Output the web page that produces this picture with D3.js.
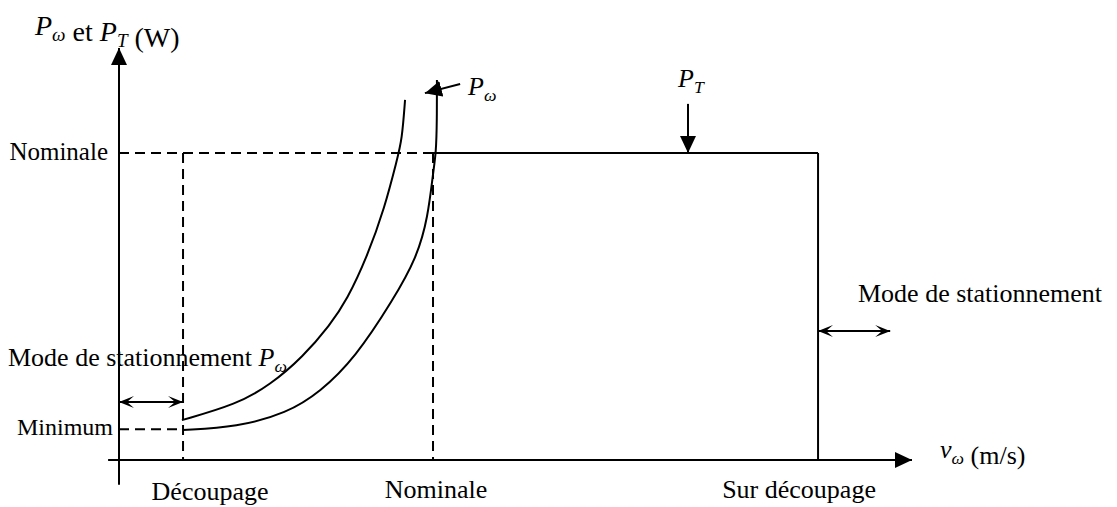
<!DOCTYPE html>
<html>
<head>
<meta charset="utf-8">
<script src="https://cdn.jsdelivr.net/npm/d3@7"></script>
<style>
body { margin: 0; background: #fff; }
text { font-family: "Liberation Serif", "Times New Roman", serif; fill: #000; }
</style>
</head>
<body>
<div class="chart"></div>
<script>
// wind speed (m/s) marks on the x axis
const speedLabels = ["Découpage", "Nominale", "Sur découpage"];
const speedValues = [2.29, 11.23, 25];
// power levels (per unit of nominal) on the y axis
const powerLabels = ["Minimum", "Nominale"];
const powerValues = [0.10, 1.0];

// wind power curve P_omega (outer curve)
const windV = [2.29, 4.22, 6.01, 7.19, 8.44, 9.80, 10.66, 11.05, 11.23, 11.34, 11.37, 11.37];
const windP = [0.098, 0.107, 0.153, 0.221, 0.332, 0.521, 0.661, 0.792, 0.935, 1.0, 1.107, 1.238];
// second curve (inner curve)
const innerV = [2.25, 4.22, 5.40, 6.58, 7.55, 8.15, 8.87, 9.51, 9.94, 10.12, 10.23];
const innerP = [0.130, 0.182, 0.244, 0.336, 0.440, 0.521, 0.661, 0.824, 0.977, 1.042, 1.173];

const width = 1117, height = 507;

const xScale = d3.scaleLinear().domain([0, 28.36]).range([119, 912]);
const yScale = d3.scaleLinear().domain([0, 1.342]).range([460, 48]);

const svg = d3.select(".chart")
    .append("svg")
    .attr("width", width)
    .attr("height", height);

const defs = svg.append("defs");
defs.append("marker")
    .attr("id", "tri")
    .attr("viewBox", "-17 -8 17 16")
    .attr("refX", 0).attr("refY", 0)
    .attr("markerWidth", 17).attr("markerHeight", 16)
    .attr("markerUnits", "userSpaceOnUse")
    .attr("orient", "auto")
    .append("path")
    .attr("d", "M0,0 L-17,-8 L-17,8 Z")
    .attr("fill", "#000");
defs.append("marker")
    .attr("id", "chev")
    .attr("viewBox", "-15 -7 15 14")
    .attr("refX", 0).attr("refY", 0)
    .attr("markerWidth", 15).attr("markerHeight", 14)
    .attr("markerUnits", "userSpaceOnUse")
    .attr("orient", "auto-start-reverse")
    .append("path")
    .attr("d", "M0,0 L-15,-6 L-8,0 L-15,6 Z")
    .attr("fill", "#000");

function line(x1, y1, x2, y2, opts = {}) {
    const l = svg.append("line")
        .attr("x1", x1).attr("y1", y1)
        .attr("x2", x2).attr("y2", y2)
        .attr("stroke", "#000")
        .attr("stroke-width", opts.w || 2);
    if (opts.dash) l.attr("stroke-dasharray", "10,6");
    if (opts.end) l.attr("marker-end", `url(#${opts.end})`);
    if (opts.start) l.attr("marker-start", `url(#${opts.start})`);
    return l;
}

// axes
line(xScale(-0.39), yScale(0), xScale(28.36), yScale(0), { end: "tri" });
line(xScale(0), yScale(-0.081), xScale(0), yScale(1.342), { end: "tri" });

const vCut = speedValues[0], vNom = speedValues[1], vOut = speedValues[2];
const pMin = powerValues[0], pNom = powerValues[1];

// dashed guides
line(xScale(0), yScale(pNom), xScale(vNom), yScale(pNom), { dash: true });
line(xScale(vCut), yScale(pNom), xScale(vCut), yScale(0), { dash: true });
line(xScale(vNom), yScale(pNom), xScale(vNom), yScale(0), { dash: true });
line(xScale(0), yScale(pMin), xScale(vCut), yScale(pMin), { dash: true });

// turbine power P_T
line(xScale(vNom), yScale(pNom), xScale(vOut), yScale(pNom));
line(xScale(vOut), yScale(pNom), xScale(vOut), yScale(0));

// curves
const curveGen = d3.line()
    .x(d => xScale(d[0]))
    .y(d => yScale(d[1]))
    .curve(d3.curveBasis);

svg.append("path")
    .datum(windV.map((v, i) => [v, windP[i]]))
    .attr("d", curveGen)
    .attr("fill", "none").attr("stroke", "#000").attr("stroke-width", 2);
svg.append("path")
    .datum(innerV.map((v, i) => [v, innerP[i]]))
    .attr("d", curveGen)
    .attr("fill", "none").attr("stroke", "#000").attr("stroke-width", 2);

// double arrows (parking modes)
line(xScale(0), yScale(0.189), xScale(vCut), yScale(0.189), { start: "chev", end: "chev" });
line(xScale(vOut), yScale(0.42), xScale(27.58), yScale(0.42), { start: "chev", end: "chev" });

// annotation arrows
line(xScale(20.35), yScale(1.16), xScale(20.35), yScale(pNom), { end: "tri" });
line(xScale(12.2), yScale(1.225), xScale(10.94), yScale(1.195), { end: "tri" });

// texts
function label(x, y, size, anchor) {
    return svg.append("text")
        .attr("x", x).attr("y", y)
        .attr("font-size", size)
        .attr("text-anchor", anchor || "start");
}
function sub(t, s, italic) {
    t.append("tspan").attr("font-size", "0.68em").attr("dy", 6)
        .attr("font-style", italic ? "italic" : null).text(s);
    t.append("tspan").attr("dy", -6).text("");
}

// y title
const title = label(35, 35, 28);
title.append("tspan").attr("font-style", "italic").text("P");
sub(title, "ω", true);
title.append("tspan").text(" et ");
title.append("tspan").attr("font-style", "italic").text("P");
sub(title, "T", true);
title.append("tspan").text(" (W)");

// y labels
label(108, yScale(pNom) + 7, 25, "end").text(powerLabels[1]);
label(113, yScale(pMin) + 6, 24, "end").text(powerLabels[0]);

// x labels
label(xScale(vCut) + 27, 500, 26, "middle").text(speedLabels[0]);
label(xScale(vNom) + 3, 498, 26, "middle").text(speedLabels[1]);
label(xScale(vOut) - 19, 498, 26, "middle").text(speedLabels[2]);

// x title
const xt = label(940, 458, 26);
xt.append("tspan").attr("font-style", "italic").text("v");
sub(xt, "ω", true);
xt.append("tspan").text(" (m/s)");

// mode labels
const ml = label(8, 366, 26);
ml.append("tspan").text("Mode de stationnement ");
ml.append("tspan").attr("font-style", "italic").text("P");
sub(ml, "ω", true);
label(858, 302, 26).text("Mode de stationnement");

// curve labels
const pw = label(468, 95, 26);
pw.append("tspan").attr("font-style", "italic").text("P");
sub(pw, "ω", true);
const pt = label(678, 87, 26);
pt.append("tspan").attr("font-style", "italic").text("P");
sub(pt, "T", true);
</script>
</body>
</html>
